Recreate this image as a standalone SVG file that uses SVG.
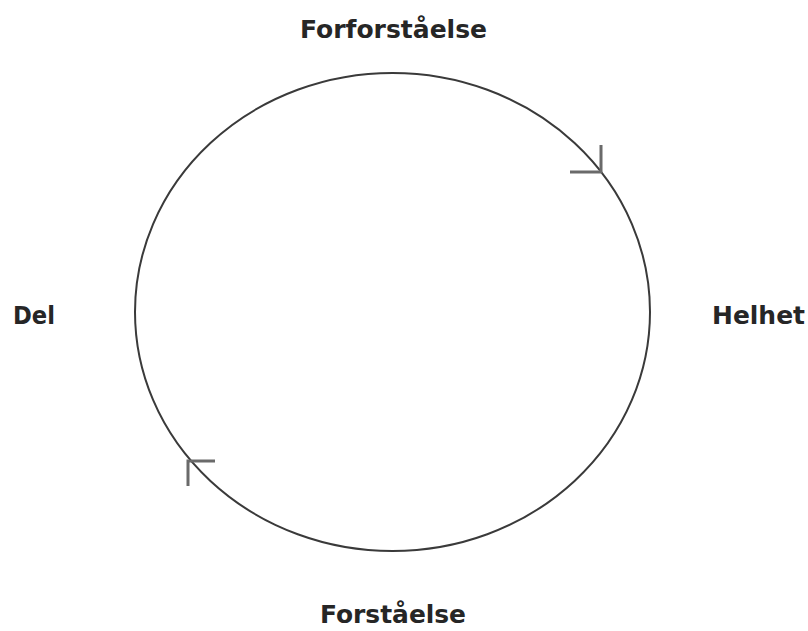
<svg xmlns="http://www.w3.org/2000/svg" width="808" height="631" viewBox="0 0 808 631">
<style>
.lbl{font-family:"DejaVu Sans","Liberation Sans",sans-serif;font-weight:bold;font-size:25px;fill:#262626}
.ring{fill:none;stroke:#3a3a3a;stroke-width:2}
.arr{fill:none;stroke:#6a6a6a;stroke-width:3;stroke-linecap:butt}
</style>
<rect width="808" height="631" fill="#ffffff"/>
<g id="connectors">
<ellipse class="ring" cx="392.5" cy="312" rx="257.5" ry="239"/>
<path class="arr" d="M601,145 L601,172 L570,172"/>
<path class="arr" d="M215,461 L188,461 L188,486"/>
</g>
<g id="forforstaelse"><text class="lbl" x="300" y="38" textLength="187" lengthAdjust="spacingAndGlyphs">Forforståelse</text></g>
<g id="del"><text class="lbl" x="13" y="324" textLength="42" lengthAdjust="spacingAndGlyphs">Del</text></g>
<g id="helhet"><text class="lbl" x="712" y="324" textLength="93" lengthAdjust="spacingAndGlyphs">Helhet</text></g>
<g id="forstaelse"><text class="lbl" x="320" y="623" textLength="146" lengthAdjust="spacingAndGlyphs">Forståelse</text></g>
</svg>
